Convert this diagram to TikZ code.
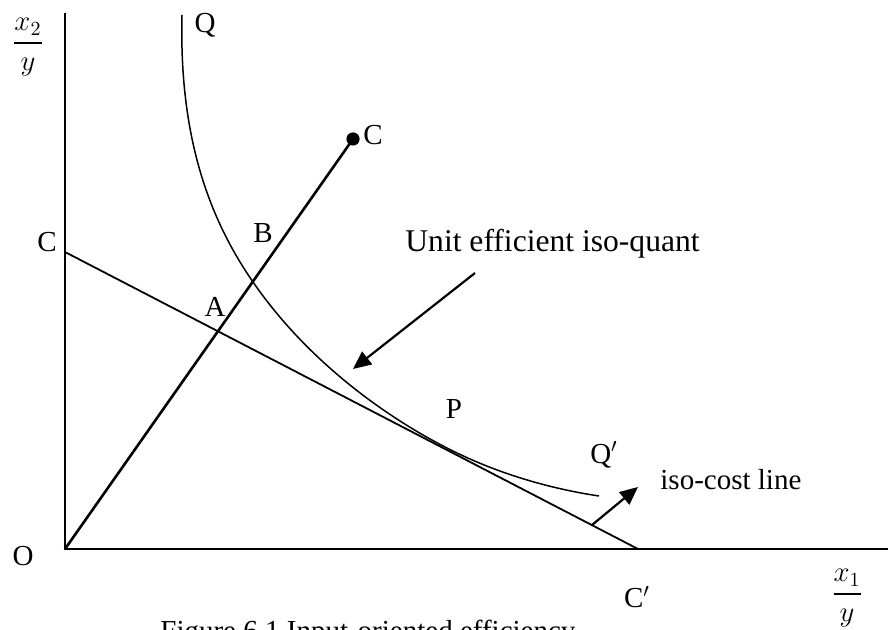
\documentclass[tikz,border=0pt]{standalone}
\usepackage{amsmath}
\usepackage{fontspec}
\setmainfont{Liberation Serif}
\usetikzlibrary{positioning,arrows.meta}

\begin{document}
\begin{tikzpicture}[
        x=0.5pt, y=-0.5pt,
        font=\fontsize{14.5pt}{17pt}\selectfont,
        lbl/.style={inner sep=0pt},
        axis/.style={line width=1.3pt},
        ray/.style={line width=1.3pt},
        isocost/.style={line width=0.9pt},
        isoquant/.style={line width=0.75pt},
        arr/.style={-{Triangle[length=9pt, width=8pt]}, line width=1.1pt},
    ]
        \useasboundingbox (0,0) rectangle (888,630);
        \clip (0,0) rectangle (888,630);

        % Axes
        \coordinate (O) at (65,549);
        \coordinate (ytop) at (65,13);
        \coordinate (xend) at (888,549);
        \draw[axis] (ytop) -- (O) -- (xend);
        \node[lbl] (Olab) at (23,556) {O};
        \node[lbl] (ylab) at (28,47) {$\dfrac{x_2}{y}$};
        \node[lbl] (xlab) at (847,598) {$\dfrac{x_1}{y}$};

        % Ray from the origin to the observed unit C
        \coordinate (Cdot) at (353,139);
        \draw[ray] (O) -- (Cdot);
        \fill (Cdot) circle (3.3pt);
        \node[lbl, above right=-3pt and 5pt of Cdot] (Clab) {C};

        % Iso-cost line C -- C'
        \coordinate (Cax) at (65,252);
        \coordinate (Cpr) at (638,549);
        \draw[isocost] (Cax) -- (Cpr);
        \node[lbl] (Caxlab) at (47,242) {C};
        \node[lbl] (Cprlab) at (637,597) {C$^{\prime}$};

        % Unit efficient iso-quant Q -- Q'
        \coordinate (Qtop) at (182,15);
        \coordinate (Bpt) at (253,282);
        \coordinate (Ptan) at (445,447);
        \coordinate (Qend) at (599,496);
        \draw[isoquant] (Qtop) .. controls (179,135) and (208,217) .. (Bpt)
            .. controls (303,354.5) and (375,410.7) .. (Ptan)
            .. controls (495,473) and (549,488.5) .. (Qend);
        \node[lbl] (Qlab) at (205,25) {Q};
        \node[lbl] (Qprlab) at (604,455) {Q$^{\prime}$};

        % Points on the ray and tangency
        \node[lbl] (Alab) at (215,307) {A};
        \node[lbl] (Blab) at (263,233) {B};
        \node[lbl] (Plab) at (454,409) {P};

        % Annotations
        \node[lbl, anchor=base west, font=\fontsize{15.8pt}{18pt}\selectfont] (uelab) at (405,252) {Unit efficient iso-quant};
        \coordinate (ueTail) at (475,273);
        \coordinate (ueHead) at (353,369);
        \draw[arr] (ueTail) -- (ueHead);

        \node[lbl, anchor=base west] (iclab) at (660,489) {iso-cost line};
        \coordinate (icTail) at (592,525);
        \coordinate (icHead) at (638,487);
        \draw[arr] (icTail) -- (icHead);

        % Caption (cut off at the bottom edge)
        \node[lbl, anchor=base west] (cap) at (160,640) {Figure 6.1 Input-oriented efficiency};
    \end{tikzpicture}
\end{document}
